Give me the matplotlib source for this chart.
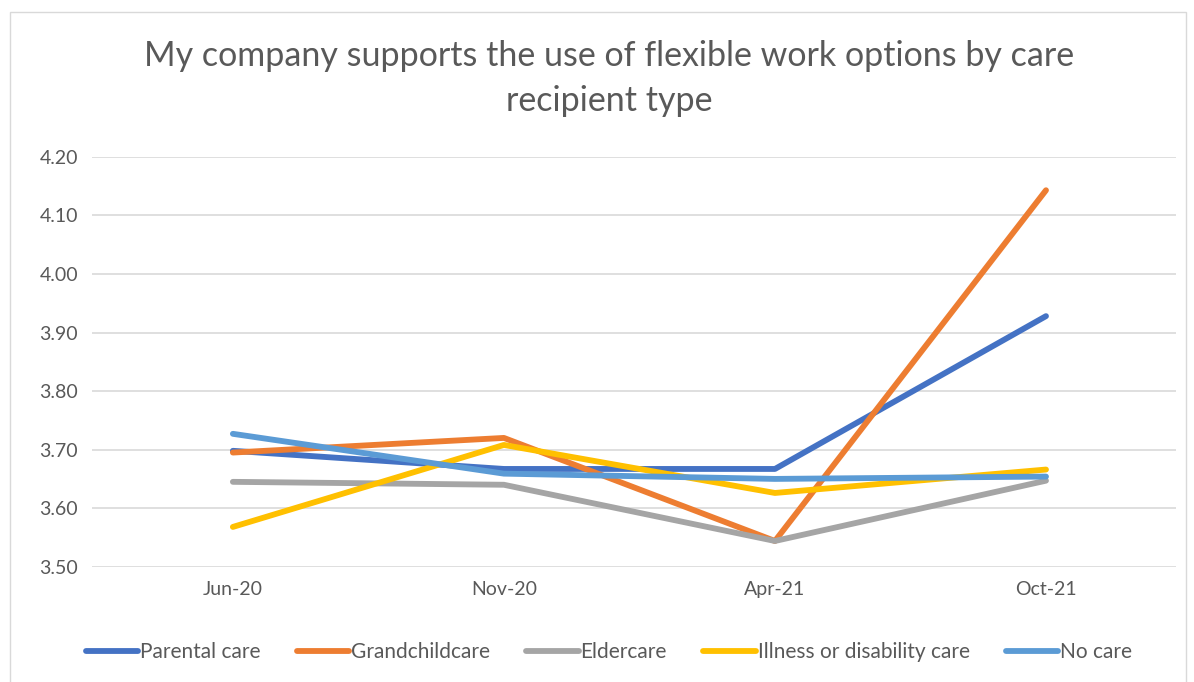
import numpy as np
import matplotlib.pyplot as plt
from matplotlib.patches import Rectangle
from matplotlib.ticker import FormatStrFormatter

plt.rcParams['font.family'] = ['Lato', 'DejaVu Sans']

months = ['Jun-20', 'Nov-20', 'Apr-21', 'Oct-21']
parental = [3.698, 3.667, 3.667, 3.928]
grandchild = [3.695, 3.720, 3.544, 4.143]
elder = [3.645, 3.640, 3.544, 3.647]
illness = [3.568, 3.708, 3.626, 3.666]
no_care = [3.727, 3.659, 3.650, 3.654]

names = ['Parental care', 'Grandchildcare', 'Eldercare',
         'Illness or disability care', 'No care']
colors = ['#4472C4', '#ED7D31', '#A5A5A5', '#FFC000', '#5B9BD5']
series = [parental, grandchild, elder, illness, no_care]

fig = plt.figure(figsize=(11.94, 6.82), dpi=100)
ax = fig.add_axes([0.077, 0.169, 0.908, 0.601])

x = np.arange(len(months))
for vals, name, c in zip(series, names, colors):
    ax.plot(x, vals, color=c, lw=4.2, label=name, solid_capstyle='round')

ax.set_xlim(-0.52, 3.48)
ax.set_ylim(3.5, 4.2)
ax.set_yticks(np.arange(3.5, 4.21, 0.1))
ax.yaxis.set_major_formatter(FormatStrFormatter('%.2f'))
ax.set_xticks(x)
ax.set_xticklabels(months)
ax.grid(axis='y', color='#D9D9D9', lw=1.2)
ax.set_axisbelow(True)
for s in ax.spines.values():
    s.set_visible(False)
ax.tick_params(length=0, labelsize=14, colors='#595959', pad=10)

fig.text(0.51, 0.885, 'My company supports the use of flexible work options by care\nrecipient type',
         ha='center', va='center', fontsize=24.5, color='#595959', linespacing=1.5)

fig.legend(loc='center', bbox_to_anchor=(0.51, 0.044), ncol=5, frameon=False,
           fontsize=15, handlelength=2.5, handletextpad=0.1, columnspacing=1.75,
           labelcolor='#595959')

fig.patches.append(Rectangle((10 / 1194, -0.01), 1176 / 1194, 1 - 12 / 682 + 0.01,
                             transform=fig.transFigure, fill=False,
                             edgecolor='#D9D9D9', lw=1))

fig.savefig('out.png', dpi=100)
